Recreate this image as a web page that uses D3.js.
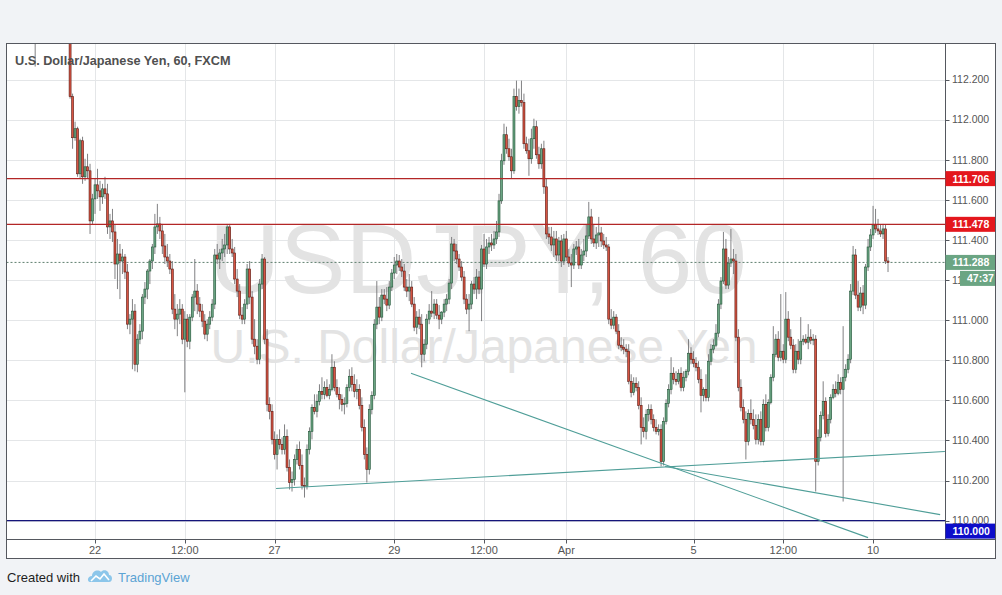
<!DOCTYPE html>
<html><head><meta charset="utf-8">
<script src="https://cdn.jsdelivr.net/npm/d3@7"></script>
<style>
html,body{margin:0;padding:0;background:#f1f3f6;}
svg{display:block;font-family:Arial,"Liberation Sans",sans-serif;}
</style></head><body>
<svg id="chart" width="1002" height="595"></svg>
<script>
// ---------- DATA (USD/JPY, 60 min, FXCM) ----------
const closes=[112.47,112.55,112.60,112.63,112.61,112.58,112.62,112.69,112.66,112.63,112.59,112.56,112.53,112.51,112.115,111.91,111.955,111.73,111.895,111.715,111.765,111.745,111.495,111.605,111.675,111.645,111.615,111.655,111.63,111.465,111.495,111.44,111.28,111.33,111.295,111.315,111.24,110.98,111.005,111.045,110.78,110.905,110.945,111.115,111.155,111.245,111.295,111.365,111.465,111.48,111.445,111.37,111.315,111.295,111.255,111.055,111.005,111.03,111.055,110.905,111.005,110.895,111.015,111.115,111.145,111.08,111.045,110.995,110.93,110.98,111.015,111.08,111.325,111.305,111.335,111.355,111.375,111.465,111.355,111.335,111.205,111.145,111.025,111.005,111.08,111.255,111.115,110.905,110.87,110.805,111.18,111.305,110.905,110.58,110.545,110.405,110.33,110.405,110.38,110.355,110.42,110.265,110.19,110.205,110.305,110.355,110.275,110.175,110.17,110.355,110.445,110.565,110.545,110.595,110.645,110.63,110.665,110.625,110.655,110.765,110.665,110.63,110.605,110.58,110.585,110.665,110.72,110.68,110.645,110.655,110.575,110.465,110.33,110.255,110.555,110.625,110.98,111.065,111.015,111.125,111.105,111.075,111.165,111.235,111.275,111.295,111.265,111.245,111.165,111.145,111.165,111.08,110.965,111.015,110.98,110.83,110.88,111.005,111.045,111.035,111.08,111.025,111.005,111.04,111.08,111.105,111.185,111.38,111.345,111.305,111.265,111.215,111.105,111.055,111.08,111.18,111.155,111.215,111.155,111.355,111.28,111.365,111.385,111.375,111.405,111.44,111.595,111.795,111.925,111.855,111.815,111.745,112.115,112.065,112.095,112.085,111.88,111.845,111.805,111.905,111.965,111.825,111.78,111.855,111.665,111.43,111.415,111.375,111.405,111.325,111.395,111.295,111.405,111.315,111.285,111.275,111.355,111.365,111.275,111.325,111.345,111.42,111.515,111.405,111.385,111.425,111.435,111.395,111.375,111.365,111.005,110.975,111.015,110.945,110.875,110.865,110.855,110.845,110.695,110.64,110.685,110.665,110.575,110.465,110.445,110.53,110.555,110.505,110.465,110.445,110.455,110.295,110.495,110.585,110.655,110.735,110.705,110.695,110.735,110.665,110.715,110.745,110.835,110.805,110.785,110.765,110.705,110.625,110.655,110.615,110.795,110.855,110.875,110.935,111.08,111.195,111.355,111.175,111.285,111.305,111.295,110.915,110.665,110.565,110.505,110.395,110.535,110.505,110.475,110.405,110.505,110.395,110.58,110.465,110.59,110.715,110.83,110.905,110.815,110.845,110.805,111.005,110.915,110.875,110.755,110.845,110.805,110.895,110.905,110.89,110.915,110.90,110.905,110.295,110.415,110.525,110.595,110.435,110.505,110.615,110.655,110.635,110.69,110.655,110.715,110.755,110.805,111.145,111.325,111.125,111.065,111.135,111.075,111.265,111.365,111.425,111.475,111.455,111.445,111.43,111.455,111.295,111.288];
const opens=[112.45,112.47,112.55,112.60,112.63,112.61,112.58,112.62,112.69,112.66,112.63,112.59,112.56,112.53,112.51,112.115,111.91,111.955,111.73,111.895,111.715,111.765,111.745,111.495,111.605,111.675,111.645,111.615,111.655,111.63,111.465,111.495,111.44,111.28,111.33,111.295,111.315,111.24,110.98,111.005,111.045,110.78,110.905,110.945,111.115,111.155,111.245,111.295,111.365,111.465,111.48,111.445,111.37,111.315,111.295,111.255,111.055,111.005,111.03,111.055,110.905,111.005,110.895,111.015,111.115,111.145,111.08,111.045,110.995,110.93,110.98,111.015,111.08,111.325,111.305,111.335,111.355,111.375,111.465,111.355,111.335,111.205,111.145,111.025,111.005,111.08,111.255,111.115,110.905,110.87,110.805,111.18,111.305,110.905,110.58,110.545,110.405,110.33,110.405,110.38,110.355,110.42,110.265,110.19,110.205,110.305,110.355,110.275,110.175,110.17,110.355,110.445,110.565,110.545,110.595,110.645,110.63,110.665,110.625,110.655,110.765,110.665,110.63,110.605,110.58,110.585,110.665,110.72,110.68,110.645,110.655,110.575,110.465,110.33,110.255,110.555,110.625,110.98,111.065,111.015,111.125,111.105,111.075,111.165,111.235,111.275,111.295,111.265,111.245,111.165,111.145,111.165,111.08,110.965,111.015,110.98,110.83,110.88,111.005,111.045,111.035,111.08,111.025,111.005,111.04,111.08,111.105,111.185,111.38,111.345,111.305,111.265,111.215,111.105,111.055,111.08,111.18,111.155,111.215,111.155,111.355,111.28,111.365,111.385,111.375,111.405,111.44,111.595,111.795,111.925,111.855,111.815,111.745,112.115,112.065,112.095,112.085,111.88,111.845,111.805,111.905,111.965,111.825,111.78,111.855,111.665,111.43,111.415,111.375,111.405,111.325,111.395,111.295,111.405,111.315,111.285,111.275,111.355,111.365,111.275,111.325,111.345,111.42,111.515,111.405,111.385,111.425,111.435,111.395,111.375,111.365,111.005,110.975,111.015,110.945,110.875,110.865,110.855,110.845,110.695,110.64,110.685,110.665,110.575,110.465,110.445,110.53,110.555,110.505,110.465,110.445,110.455,110.295,110.495,110.585,110.655,110.735,110.705,110.695,110.735,110.665,110.715,110.745,110.835,110.805,110.785,110.765,110.705,110.625,110.655,110.615,110.795,110.855,110.875,110.935,111.08,111.195,111.355,111.175,111.285,111.305,111.295,110.915,110.665,110.565,110.505,110.395,110.535,110.505,110.475,110.405,110.505,110.395,110.58,110.465,110.59,110.715,110.83,110.905,110.815,110.845,110.805,111.005,110.915,110.875,110.755,110.845,110.805,110.895,110.905,110.89,110.915,110.90,110.905,110.295,110.415,110.525,110.595,110.435,110.505,110.615,110.655,110.635,110.69,110.655,110.715,110.755,110.805,111.145,111.325,111.125,111.065,111.135,111.075,111.265,111.365,111.425,111.475,111.455,111.445,111.43,111.455,111.295];
const highs=[112.52,112.58,112.64,112.68,112.70,112.66,112.65,112.72,112.74,112.70,112.68,112.64,112.61,112.58,112.53,112.13,111.99,111.965,111.905,111.915,111.805,111.83,111.78,111.63,111.705,111.755,111.695,111.68,111.715,111.68,111.53,111.555,111.48,111.405,111.38,111.355,111.33,111.28,111.03,111.105,111.08,110.93,110.98,111.13,111.19,111.255,111.305,111.38,111.53,111.58,111.515,111.48,111.43,111.38,111.33,111.295,111.13,111.08,111.105,111.08,111.045,111.03,111.03,111.13,111.305,111.18,111.115,111.08,111.03,111.005,111.045,111.105,111.355,111.38,111.355,111.405,111.43,111.48,111.48,111.405,111.365,111.255,111.18,111.065,111.105,111.28,111.295,111.145,111.005,110.905,111.205,111.33,111.315,110.955,110.615,110.58,110.445,110.43,110.455,110.415,110.48,110.455,110.305,110.245,110.33,110.38,110.395,110.33,110.215,110.38,110.465,110.58,110.63,110.63,110.68,110.715,110.695,110.705,110.68,110.83,110.795,110.705,110.665,110.63,110.615,110.68,110.755,110.765,110.73,110.705,110.68,110.615,110.505,110.365,110.58,110.645,111.005,111.195,111.115,111.155,111.155,111.165,111.195,111.255,111.315,111.33,111.325,111.305,111.28,111.205,111.23,111.195,111.115,111.045,111.055,111.03,110.905,111.03,111.08,111.145,111.105,111.105,111.075,111.045,111.105,111.13,111.205,111.415,111.405,111.38,111.33,111.295,111.245,111.13,111.13,111.195,111.215,111.255,111.245,111.375,111.43,111.405,111.415,111.43,111.445,111.495,111.63,111.83,111.98,111.965,111.905,111.855,112.155,112.195,112.155,112.195,112.13,111.915,111.905,111.955,112.005,111.995,111.865,111.88,111.895,111.705,111.465,111.465,111.445,111.445,111.415,111.425,111.43,111.445,111.355,111.33,111.38,111.395,111.405,111.355,111.405,111.48,111.59,111.555,111.48,111.465,111.515,111.465,111.43,111.415,111.38,111.055,111.045,111.03,110.98,110.915,110.905,110.88,110.88,110.73,110.715,110.715,110.695,110.615,110.515,110.555,110.58,110.58,110.53,110.505,110.48,110.48,110.515,110.605,110.68,110.815,110.765,110.745,110.755,110.765,110.745,110.755,110.905,110.865,110.845,110.815,110.795,110.755,110.665,110.73,110.83,110.88,110.905,110.98,111.105,111.215,111.44,111.405,111.315,111.455,111.355,111.33,110.955,110.705,110.605,110.545,110.555,110.605,110.555,110.53,110.53,110.545,110.605,110.63,110.605,110.73,110.97,110.93,110.945,111.13,110.88,111.14,111.045,110.955,110.905,110.88,110.905,111.015,110.925,110.93,110.98,110.955,110.93,110.925,110.455,110.545,110.695,110.615,110.53,110.63,110.68,110.695,110.73,110.715,110.97,110.78,110.83,111.18,111.37,111.355,111.195,111.165,111.175,111.28,111.405,111.455,111.57,111.555,111.505,111.475,111.48,111.475,111.315];
const lows=[112.265,112.44,112.52,112.57,112.58,112.55,112.54,112.60,112.64,112.60,112.57,112.53,112.49,112.46,112.105,111.855,111.895,111.715,111.705,111.68,111.695,111.705,111.43,111.48,111.53,111.605,111.545,111.58,111.605,111.43,111.405,111.39,111.205,111.155,111.105,111.23,111.205,110.955,110.93,110.755,110.745,110.74,110.88,110.905,111.08,111.105,111.18,111.255,111.33,111.43,111.405,111.33,111.28,111.265,111.23,111.03,110.955,110.92,110.98,110.88,110.64,110.865,110.855,110.995,111.045,111.03,111.015,110.965,110.905,110.895,110.955,110.995,111.055,111.28,111.255,111.295,111.315,111.33,111.33,111.315,111.18,111.115,111.005,110.98,110.98,111.055,111.08,110.88,110.83,110.78,110.78,111.155,110.88,110.545,110.505,110.38,110.305,110.255,110.355,110.33,110.33,110.245,110.155,110.145,110.175,110.28,110.255,110.155,110.115,110.155,110.33,110.405,110.53,110.515,110.575,110.605,110.605,110.615,110.605,110.645,110.645,110.615,110.555,110.545,110.53,110.565,110.645,110.645,110.615,110.605,110.555,110.445,110.305,110.19,110.23,110.53,110.605,110.955,110.98,110.995,111.08,111.045,111.055,111.145,111.205,111.23,111.245,111.215,111.145,111.115,111.095,111.065,110.945,110.93,110.955,110.765,110.795,110.855,110.98,111.015,111.005,111.005,110.955,110.98,111.015,111.045,111.08,111.155,111.295,111.28,111.245,111.195,111.08,111.03,110.945,111.055,111.13,111.105,111.13,110.995,111.265,111.255,111.33,111.345,111.355,111.38,111.415,111.58,111.775,111.83,111.795,111.705,111.73,112.045,112.03,112.065,111.855,111.83,111.72,111.78,111.855,111.805,111.755,111.755,111.63,111.405,111.38,111.345,111.315,111.295,111.295,111.265,111.275,111.295,111.265,111.165,111.255,111.325,111.255,111.255,111.295,111.315,111.405,111.38,111.365,111.355,111.365,111.365,111.355,111.345,110.98,110.955,110.955,110.93,110.855,110.845,110.83,110.815,110.68,110.615,110.625,110.645,110.555,110.38,110.415,110.405,110.495,110.48,110.445,110.43,110.425,110.27,110.275,110.48,110.565,110.63,110.68,110.675,110.68,110.645,110.645,110.695,110.725,110.78,110.765,110.745,110.685,110.54,110.595,110.595,110.595,110.775,110.835,110.865,110.915,111.055,111.18,111.155,111.155,111.265,111.23,110.895,110.645,110.545,110.485,110.305,110.375,110.48,110.455,110.38,110.38,110.375,110.375,110.445,110.445,110.58,110.695,110.815,110.795,110.795,110.785,110.785,110.895,110.855,110.735,110.735,110.78,110.78,110.875,110.88,110.855,110.88,110.875,110.145,110.275,110.395,110.505,110.415,110.42,110.485,110.605,110.615,110.625,110.63,110.095,110.695,110.735,110.785,111.125,111.105,111.045,111.045,111.03,111.055,111.245,111.345,111.405,111.435,111.425,111.415,111.405,111.28,111.24];

const timeTickIndex=[24,60,96,144,180,213,264,300,336];
const timeTickLabels=["22","12:00","27","29","12:00","Apr","5","12:00","10"];
const priceTicks=[110.0,110.2,110.4,110.6,110.8,111.0,111.2,111.4,111.6,111.8,112.0,112.2];
const resistanceLevels=[111.706,111.478];
const supportLevel=110.000;
const lastPrice=111.288;
const countdown="47:37";
// trend lines: [barIndex, price] endpoints
const trendStart=[[96.6,110.16],[150.7,110.735],[252.6,110.27]];
const trendEnd=[[364.8,110.345],[334.0,109.915],[362.9,110.03]];
const titleText="U.S. Dollar/Japanese Yen, 60, FXCM";
const watermarkMain="USDJPY, 60";
const watermarkSub="U.S. Dollar/Japanese Yen";

// ---------- LAYOUT ----------
const svg=d3.select("#chart");
const L=6.5,R=945.5,T=43.5,B=539.5,FR=995.5,FB=558.5;
const x=d3.scaleLinear().domain([-11.7,364.85]).range([6,945]);
const y=d3.scaleLinear().domain([110,112.2]).range([520.6,79.6]);
const up="#6ba583",down="#d75442",upB="#225437",downB="#5b1a13",wick="#737375";

svg.append("rect").attr("x",L).attr("y",T).attr("width",FR-L).attr("height",FB-T).attr("fill","#fff");

// grid
svg.append("g").selectAll("line").data(priceTicks).join("line")
 .attr("x1",L).attr("x2",R).attr("y1",d=>Math.round(y(d))+0.5).attr("y2",d=>Math.round(y(d))+0.5)
 .attr("stroke","#e4e6e8").attr("stroke-width",1);
svg.append("g").selectAll("line").data(timeTickIndex).join("line")
 .attr("x1",d=>Math.round(x(d))+0.5).attr("x2",d=>Math.round(x(d))+0.5).attr("y1",T).attr("y2",B)
 .attr("stroke","#e4e6e8").attr("stroke-width",1);

// watermark
const cx=(L+R)/2+2;
svg.append("text").attr("x",cx).attr("y",293).attr("text-anchor","middle")
 .attr("font-size",98).attr("fill","#e3e3e3").text(watermarkMain);
svg.append("text").attr("x",cx+6).attr("y",363).attr("text-anchor","middle")
 .attr("font-size",48).attr("fill","#e3e3e3").text(watermarkSub);

// clip
svg.append("clipPath").attr("id","plotclip").append("rect")
 .attr("x",L+0.5).attr("y",T+0.5).attr("width",R-L-1).attr("height",B-T-1);
const plot=svg.append("g").attr("clip-path","url(#plotclip)");

// last price dotted line
plot.append("line").attr("x1",L).attr("x2",R).attr("y1",y(lastPrice)).attr("y2",y(lastPrice))
 .attr("stroke","#5f7f6e").attr("stroke-dasharray","2,2").attr("stroke-width",1);

// candles
const idx=d3.range(closes.length);
plot.append("g").selectAll("line").data(idx).join("line")
 .attr("x1",i=>x(i)).attr("x2",i=>x(i)).attr("y1",i=>y(highs[i])).attr("y2",i=>y(lows[i]))
 .attr("stroke",wick).attr("stroke-width",0.9);
plot.append("g").selectAll("rect").data(idx).join("rect")
 .attr("x",i=>x(i)-1).attr("width",2)
 .attr("y",i=>y(Math.max(opens[i],closes[i])))
 .attr("height",i=>Math.max(0.8,Math.abs(y(opens[i])-y(closes[i]))))
 .attr("fill",i=>closes[i]>=opens[i]?up:down)
 .attr("stroke",i=>closes[i]>=opens[i]?upB:downB).attr("stroke-width",0.6);

// horizontal levels
plot.selectAll(".res").data(resistanceLevels).join("line").attr("class","res")
 .attr("x1",L).attr("x2",R).attr("y1",d=>y(d)).attr("y2",d=>y(d))
 .attr("stroke","#b32626").attr("stroke-width",1.1);
plot.append("line").attr("x1",L).attr("x2",R).attr("y1",y(supportLevel)).attr("y2",y(supportLevel))
 .attr("stroke","#15157a").attr("stroke-width",1.1);

// trend lines
plot.selectAll(".trend").data(trendStart).join("line").attr("class","trend")
 .attr("x1",(d)=>x(d[0])).attr("y1",d=>y(d[1]))
 .attr("x2",(d,k)=>x(trendEnd[k][0])).attr("y2",(d,k)=>y(trendEnd[k][1]))
 .attr("stroke","#4f9e98").attr("stroke-width",1.1);

// axes frame
const ax=svg.append("g").attr("stroke","#55585f").attr("stroke-width",1).attr("fill","none");
ax.append("rect").attr("x",L).attr("y",T).attr("width",FR-L).attr("height",FB-T);
ax.append("line").attr("x1",R).attr("x2",R).attr("y1",T).attr("y2",B);
ax.append("line").attr("x1",L).attr("x2",FR).attr("y1",B).attr("y2",B);

// price axis ticks & labels
const pa=svg.append("g");
pa.selectAll("line").data(priceTicks).join("line")
 .attr("x1",R).attr("x2",R+4).attr("y1",d=>Math.round(y(d))+0.5).attr("y2",d=>Math.round(y(d))+0.5)
 .attr("stroke","#55585f");
pa.selectAll("text").data(priceTicks).join("text")
 .attr("x",952).attr("y",d=>y(d)+3.8).attr("font-size",10.5).attr("fill","#555")
 .text(d=>d3.format(".3f")(d));

// time axis ticks & labels
const ta=svg.append("g");
ta.selectAll("line").data(timeTickIndex).join("line")
 .attr("x1",d=>Math.round(x(d))+0.5).attr("x2",d=>Math.round(x(d))+0.5).attr("y1",B).attr("y2",B+4)
 .attr("stroke","#55585f");
ta.selectAll("text").data(timeTickIndex).join("text")
 .attr("x",d=>x(d)).attr("y",554).attr("text-anchor","middle").attr("font-size",11).attr("fill","#555")
 .text((d,k)=>timeTickLabels[k]);

// price labels on axis
function tag(v,yc,color,txt,x0){
  svg.append("rect").attr("x",x0).attr("y",yc-7.5).attr("width",FR-0.5-x0).attr("height",15).attr("fill",color);
  svg.append("text").attr("x",x0+7).attr("y",yc+4).attr("font-size",10.5).attr("font-weight","bold")
   .attr("fill","#fff").text(txt);
}
resistanceLevels.forEach(v=>tag(v,y(v),"#e4171d",d3.format(".3f")(v),R));
tag(lastPrice,y(lastPrice),up,d3.format(".3f")(lastPrice),R);
tag(lastPrice,y(lastPrice)+16,up,countdown,960);
tag(supportLevel,y(supportLevel)+10.5,"#0d0dc9",d3.format(".3f")(supportLevel),R);

// title
svg.append("text").attr("x",15).attr("y",65).attr("font-size",12.7).attr("font-weight","bold")
 .attr("fill","#505050").text(titleText);

// footer
svg.append("text").attr("x",7).attr("y",582).attr("font-size",13).attr("fill","#1e1e1e").text("Created with");
const logo=svg.append("g").attr("transform","translate(88,568)");
logo.append("path").attr("d","M2,14 C-1,14 -1,8 4,8 C4,3 10,1 13,4 C15,1 21,2 21,7 C25,7 25,14 21,14 Z").attr("fill","#8cc6ea");
logo.append("path").attr("d","M3,13 L8,8 L12,11 L16,6 L21,12").attr("fill","none").attr("stroke","#fff").attr("stroke-width",1.6);
svg.append("text").attr("x",118).attr("y",582).attr("font-size",13).attr("fill","#5ba3d4").text("TradingView");
</script>
</body></html>
